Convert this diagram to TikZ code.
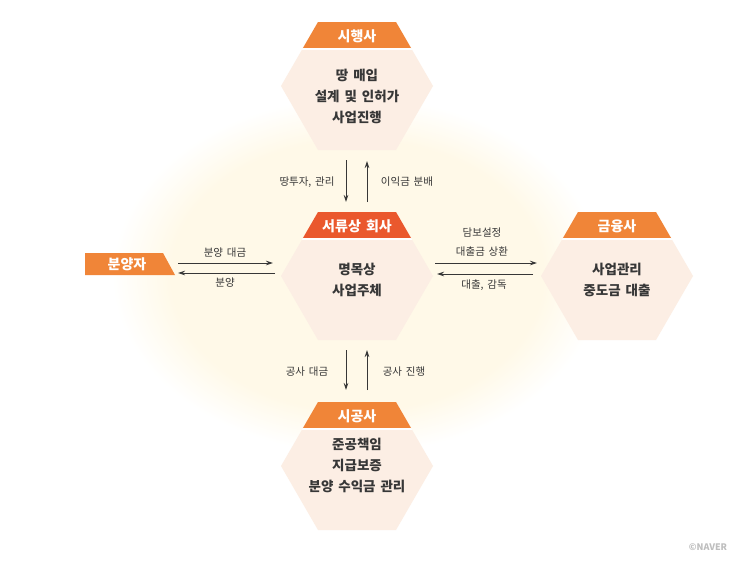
\documentclass[tikz,border=0pt]{standalone}
\usepackage{fontspec}
\setmainfont{Noto Sans CJK KR}[WordSpace=1.6]
\usetikzlibrary{arrows.meta,calc}
\definecolor{hdr}{RGB}{240,133,56}
\definecolor{hdrred}{RGB}{234,88,45}
\definecolor{hexfill}{RGB}{252,238,228}
\definecolor{glowc}{RGB}{255,249,232}
\definecolor{txt}{RGB}{55,55,55}
\definecolor{logo}{RGB}{190,190,190}
\pgfdeclareradialshading{glowshade}{\pgfpoint{0bp}{0bp}}{color(0bp)=(glowc); color(19bp)=(glowc); color(25bp)=(white); color(50bp)=(white)}
\tikzset{
  hdrtext/.style={text=white, font=\fontsize{14}{16}\selectfont\bfseries, inner sep=0pt},
  bodytext/.style={text=txt, font=\fontsize{13.5}{21}\selectfont\bfseries, align=center, inner sep=0pt},
  lbl/.style={text=txt, font=\fontsize{10.5}{19}\selectfont, align=center, inner sep=0pt},
  arr/.style={draw=txt, line width=0.8pt, -{Stealth[length=7pt,width=4.5pt]}},
}
% #1 name, #2 centre, #3 header colour, #4 header text, #5 body text, #6 body y offset
\newcommand{\mkhex}[6]{%
  \coordinate (#1) at (#2);
  \begin{scope}[shift={(#1)}]
    \fill[hexfill] (-76,0)--(-39,-64)--(39,-64)--(76,0)--(39,64)--(-39,64)--cycle;
    \begin{scope}
      \clip (-76,0)--(-39,-64)--(39,-64)--(76,0)--(39,64)--(-39,64)--cycle;
      \fill[#3] (-80,-70) rectangle (80,-38);
      \fill[white] (-80,-38) rectangle (80,-36.5);
    \end{scope}
    \node[hdrtext] (#1-h) at (0,-50) {#4};
    \node[bodytext] (#1-b) at (0,#6) {#5};
  \end{scope}}
\begin{document}
\begin{tikzpicture}[x=1pt,y=-1pt]
\useasboundingbox (0,0) rectangle (746,562);
\fill[white] (0,0) rectangle (746,562);
% background glow
\shade[shading=glowshade] (357,275) ellipse [x radius=245, y radius=178];

\mkhex{T}{357,86}{hdr}{시행사}{땅 매입\\설계 및 인허가\\사업진행}{10}
\mkhex{C}{357,276}{hdrred}{서류상 회사}{명목상\\사업주체}{4}
\mkhex{F}{617,276}{hdr}{금융사}{사업관리\\중도금 대출}{4}
\mkhex{B}{357,466}{hdr}{시공사}{준공책임\\지급보증\\분양 수익금 관리}{-1}

% buyer
\coordinate (buyer) at (127,264);
\fill[hdr] ($(buyer)+(-42,-11)$) -- ($(buyer)+(36,-11)$) -- ($(buyer)+(48,11)$) -- ($(buyer)+(-42,11)$) -- cycle;
\node[hdrtext] (buyer-t) at ($(buyer)+(0,0)$) {분양자};

% vertical arrows top
\draw[arr] ($(T)+(-11,74)$) -- ($(C)+(-11,-74)$);
\draw[arr] ($(C)+(10,-74)$) -- ($(T)+(10,75)$);
\node[lbl] (l1) at (307,182) {땅투자, 관리};
\node[lbl] (l2) at (407,182) {이익금 분배};

% vertical arrows bottom
\draw[arr] ($(C)+(-11,74)$) -- ($(B)+(-11,-76)$);
\draw[arr] ($(B)+(10,-76)$) -- ($(C)+(10,74)$);
\node[lbl] (l3) at (307,372) {공사 대금};
\node[lbl] (l4) at (404,372) {공사 진행};

% left arrows
\draw[arr] ($(buyer)+(51,-1)$) -- ($(C)+(-84,-13)$);
\draw[arr] ($(C)+(-82,-3)$) -- ($(buyer)+(51,9)$);
\node[lbl] (l5) at (225,253) {분양 대금};
\node[lbl] (l6) at (225,283) {분양};

% right arrows
\draw[arr] ($(C)+(78,-13)$) -- ($(F)+(-80,-13)$);
\draw[arr] ($(F)+(-84,-2)$) -- ($(C)+(80,-2)$);
\node[lbl] (l7) at (482,242.5) {담보설정\\대출금 상환};
\node[lbl] (l8) at (484,285) {대출, 감독};

% logo
\node[text=logo, font=\fontsize{9}{10}\selectfont\bfseries, inner sep=0pt] (logo) at (708,547) {©NAVER};
\end{tikzpicture}
\end{document}
